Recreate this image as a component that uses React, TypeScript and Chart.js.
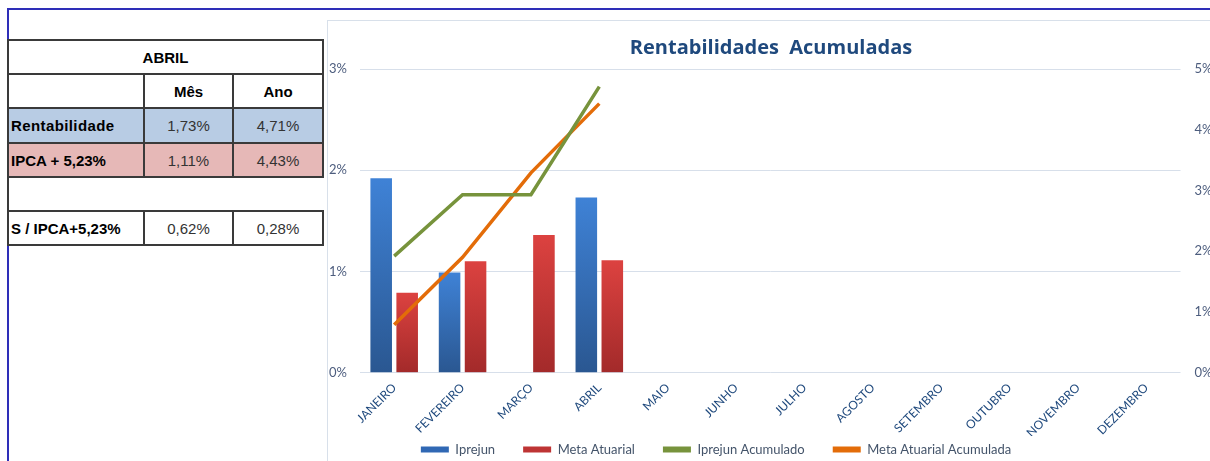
import React, { useEffect, useRef } from 'react';
import { Chart, registerables } from 'chart.js';

Chart.register(...registerables);

// ---------- DATA ----------
const categories = ['JANEIRO', 'FEVEREIRO', 'MARÇO', 'ABRIL', 'MAIO', 'JUNHO', 'JULHO', 'AGOSTO', 'SETEMBRO', 'OUTUBRO', 'NOVEMBRO', 'DEZEMBRO'];
const iprejun = [1.92, 0.99, 0.0, 1.73, null, null, null, null, null, null, null, null];
const metaAtuarial = [0.79, 1.10, 1.36, 1.11, null, null, null, null, null, null, null, null];
const iprejunAcumulado = [1.92, 2.93, 2.93, 4.71, null, null, null, null, null, null, null, null];
const metaAtuarialAcumulada = [0.79, 1.90, 3.29, 4.43, null, null, null, null, null, null, null, null];
const seriesNames = ['Iprejun', 'Meta Atuarial', 'Iprejun Acumulado', 'Meta Atuarial Acumulada'];
const leftAxisMax = 3;
const rightAxisMax = 5;
const chartTitle = 'Rentabilidades  Acumuladas';

const tableTitle = 'ABRIL';
const tableColumns = ['Mês', 'Ano'];
const tableRowLabels = ['Rentabilidade', 'IPCA + 5,23%', '', 'S / IPCA+5,23%'];
const tableMes = ['1,73%', '1,11%', '', '0,62%'];
const tableAno = ['4,71%', '4,43%', '', '0,28%'];

// ---------- STYLE ----------
const BLUE_LIGHT = '#3F82D6';
const BLUE_DARK = '#2A5791';
const RED_LIGHT = '#DC4240';
const RED_DARK = '#A32A2A';
const GREEN = '#77933C';
const ORANGE = '#E36C09';
const legendColors = ['#3068B4', '#BE3434', GREEN, ORANGE];

function barGradient(light: string, dark: string) {
  return (c: any) => {
    const ch = c.chart;
    const area = ch.chartArea;
    const v = c.raw;
    if (!area || c.type !== 'data' || v == null) return dark;
    const ys = ch.scales.y;
    if (!ys) return dark;
    const top = ys.getPixelForValue(v);
    const bottom = ys.getPixelForValue(0);
    if (!isFinite(top) || !isFinite(bottom) || Math.abs(bottom - top) < 1) return dark;
    const g = ch.ctx.createLinearGradient(0, top, 0, bottom);
    g.addColorStop(0, light);
    g.addColorStop(1, dark);
    return g;
  };
}

// moves the legend row to where the reference has it (and widens its clip box)
const legendShift = {
  id: 'legendShift',
  afterLayout(chart: any) {
    const l = chart.legend;
    if (l) {
      l.left -= 55;
      l.right -= 55;
      l.top -= 21;
      l.bottom = l.top + 46;
    }
  },
};

const ChartBox: React.FC = () => {
  const ref = useRef<HTMLCanvasElement | null>(null);
  useEffect(() => {
    if (!ref.current) return;
    const chart = new Chart(ref.current, {
      type: 'bar',
      data: {
        labels: categories,
        datasets: [
          {
            type: 'bar',
            label: seriesNames[0],
            data: iprejun,
            backgroundColor: barGradient(BLUE_LIGHT, BLUE_DARK),
            borderWidth: 0,
            yAxisID: 'y',
            order: 1,
            barPercentage: 0.83,
            categoryPercentage: 0.76,
          },
          {
            type: 'bar',
            label: seriesNames[1],
            data: metaAtuarial,
            backgroundColor: barGradient(RED_LIGHT, RED_DARK),
            borderWidth: 0,
            yAxisID: 'y',
            order: 1,
            barPercentage: 0.83,
            categoryPercentage: 0.76,
          },
          {
            type: 'line',
            label: seriesNames[2],
            data: iprejunAcumulado,
            borderColor: GREEN,
            backgroundColor: GREEN,
            borderWidth: 3.5,
            pointRadius: 0,
            tension: 0,
            yAxisID: 'y1',
            order: 0,
            spanGaps: false,
          },
          {
            type: 'line',
            label: seriesNames[3],
            data: metaAtuarialAcumulada,
            borderColor: ORANGE,
            backgroundColor: ORANGE,
            borderWidth: 3.5,
            pointRadius: 0,
            tension: 0,
            yAxisID: 'y1',
            order: 0,
            spanGaps: false,
          },
        ],
      } as any,
      options: {
        responsive: false,
        animation: false,
        layout: { padding: 0 },
        plugins: {
          title: {
            display: true,
            text: chartTitle,
            color: '#1F497D',
            font: { family: 'Open Sans', size: 20, weight: 'bold', lineHeight: 1.2 },
            padding: { top: 15, bottom: 9 },
          },
          legend: {
            position: 'bottom',
            maxHeight: 25,
            labels: {
              boxWidth: 28,
              boxHeight: 6,
              padding: 28,
              color: '#44546A',
              font: { family: 'Lato', size: 13 },
              sort: (a: any, b: any) => a.datasetIndex - b.datasetIndex,
              generateLabels: (ch: any) =>
                (Chart.defaults.plugins.legend.labels.generateLabels as any)(ch).map((it: any) => ({
                  ...it,
                  fillStyle: legendColors[it.datasetIndex],
                  strokeStyle: legendColors[it.datasetIndex],
                  lineWidth: 0,
                })),
            },
          },
          tooltip: { enabled: false },
        },
        scales: {
          x: {
            grid: { display: false, drawTicks: false },
            border: { display: false },
            ticks: {
              color: '#1F497D',
              font: { family: 'Lato', size: 12 },
              minRotation: 45,
              maxRotation: 45,
              autoSkip: false,
              padding: 8,
            },
            afterFit: (s: any) => {
              s.height = 63.3;
            },
          },
          y: {
            position: 'left',
            min: 0,
            max: leftAxisMax,
            grid: { color: '#D7DFEA', lineWidth: 1, drawTicks: false },
            border: { display: false },
            ticks: {
              stepSize: 1,
              color: '#4D5D7E',
              font: { family: 'Lato', size: 13 },
              padding: 13,
              callback: (v: any) => v + '%',
            },
            afterFit: (s: any) => {
              s.width = 32;
            },
          },
          y1: {
            position: 'right',
            min: 0,
            max: rightAxisMax,
            grid: { display: false, drawTicks: false },
            border: { display: false },
            ticks: {
              stepSize: 1,
              color: '#4D5D7E',
              font: { family: 'Lato', size: 13 },
              padding: 14,
              callback: (v: any) => v + '%',
            },
            afterFit: (s: any) => {
              s.width = 33.5;
            },
          },
        },
      } as any,
      plugins: [legendShift],
    });
    return () => chart.destroy();
  }, []);
  return <canvas ref={ref} width={886} height={440} style={{ display: 'block', background: '#fff' }} />;
};

const LINE_COLOR = '#3a3a3a';
const colX = [8, 144, 233, 323];
const rowY = [40, 74, 108, 143, 177, 211, 245];
const rowBg = ['#B8CCE4', '#E6B8B7', '#fff', '#fff'];

const Table: React.FC = () => {
  const els: React.ReactNode[] = [];
  const font = '"Liberation Sans", Arial, sans-serif';
  tableRowLabels.forEach((_, i) => {
    els.push(
      <div key={'bg' + i} style={{ position: 'absolute', left: colX[0], top: rowY[i + 2], width: colX[3] - colX[0], height: rowY[i + 3] - rowY[i + 2], background: rowBg[i] }} />
    );
  });
  rowY.forEach((y, i) => {
    els.push(<div key={'h' + i} style={{ position: 'absolute', left: colX[0], top: y - 1, width: colX[3] - colX[0] + 1, height: 2, background: LINE_COLOR }} />);
  });
  const vseg = (x: number, y0: number, y1: number, k: string) =>
    els.push(<div key={k} style={{ position: 'absolute', left: x - 1, top: y0 - 1, width: 2, height: y1 - y0 + 2, background: LINE_COLOR }} />);
  vseg(colX[0], rowY[0], rowY[6], 'v0');
  vseg(colX[3], rowY[0], rowY[4], 'v3a');
  vseg(colX[3], rowY[5], rowY[6], 'v3b');
  [1, 2].forEach((c) => {
    vseg(colX[c], rowY[1], rowY[4], 'v' + c + 'a');
    vseg(colX[c], rowY[5], rowY[6], 'v' + c + 'b');
  });
  const text = (x: number, y: number, w: number, h: number, t: string, bold: boolean, align: 'left' | 'center', k: string, extra: any = {}) =>
    els.push(
      <div
        key={k}
        style={{
          position: 'absolute', left: x, top: y, width: w, height: h, display: 'flex', alignItems: 'center',
          justifyContent: align === 'left' ? 'flex-start' : 'center', fontFamily: font, fontSize: 15,
          fontWeight: bold ? 'bold' : 'normal', color: bold ? '#000' : '#333', paddingLeft: align === 'left' ? 3 : 0,
          boxSizing: 'border-box', whiteSpace: 'nowrap', ...extra,
        }}
      >
        {t}
      </div>
    );
  text(colX[0], rowY[0], colX[3] - colX[0], rowY[1] - rowY[0], tableTitle, true, 'center', 't');
  text(colX[1], rowY[1], colX[2] - colX[1], rowY[2] - rowY[1], tableColumns[0], true, 'center', 'c1');
  text(colX[2], rowY[1], colX[3] - colX[2], rowY[2] - rowY[1], tableColumns[1], true, 'center', 'c2');
  tableRowLabels.forEach((lab, i) => {
    const y = rowY[i + 2];
    const h = rowY[i + 3] - y;
    text(colX[0], y, colX[1] - colX[0], h, lab, true, 'left', 'l' + i, i === 0 ? { letterSpacing: '0.4px' } : {});
    text(colX[1], y, colX[2] - colX[1], h, tableMes[i], false, 'center', 'm' + i);
    text(colX[2], y, colX[3] - colX[2], h, tableAno[i], false, 'center', 'a' + i);
  });
  return <>{els}</>;
};

export default function App() {
  return (
    <div style={{ position: 'absolute', left: 0, top: 0, width: 1210, height: 461, overflow: 'hidden', background: '#fff' }}>
      <div style={{ position: 'absolute', left: 7, top: 8, width: 1210, height: 2, background: '#2E2EB8' }} />
      <div style={{ position: 'absolute', left: 7, top: 8, width: 2, height: 460, background: '#2E2EB8' }} />
      <div style={{ position: 'absolute', left: 327, top: 20, width: 900, height: 460, borderLeft: '1px solid #D8E0EA', borderTop: '1px solid #D8E0EA', background: '#fff' }} />
      <div style={{ position: 'absolute', left: 328, top: 21, width: 882, height: 440, overflow: 'hidden' }}>
        <ChartBox />
      </div>
      <Table />
    </div>
  );
}
